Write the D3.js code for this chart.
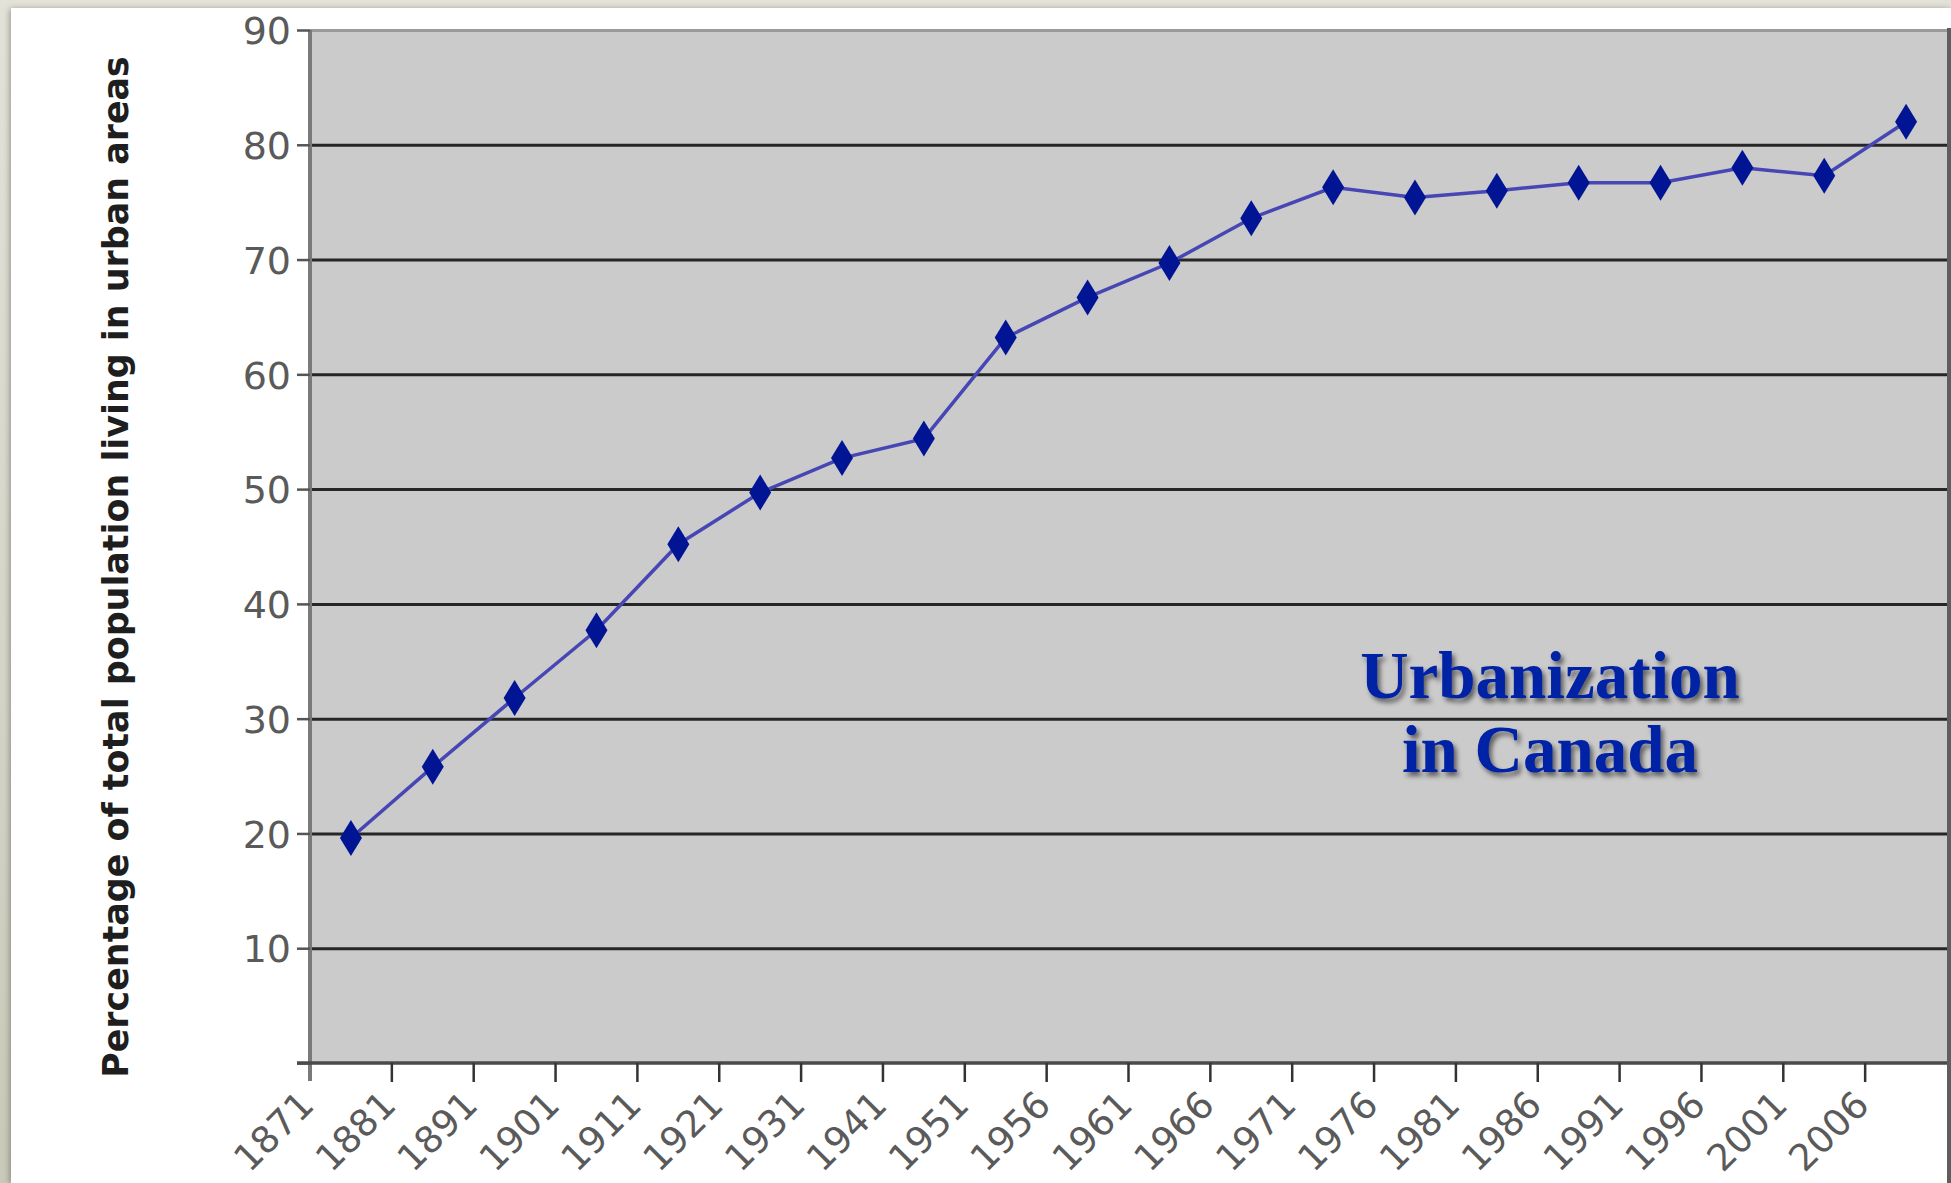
<!DOCTYPE html>
<html>
<head>
<meta charset="utf-8">
<script src="https://cdn.jsdelivr.net/npm/d3@7"></script>
<style>
  html, body { margin: 0; padding: 0; background: #d8d8cc; }
  svg { display: block; }
</style>
</head>
<body>
<svg id="chart" width="1951" height="1183"></svg>
<script>
// Census years and share of the population living in urban areas (%)
const years = ["1871","1881","1891","1901","1911","1921","1931","1941","1951","1956",
               "1961","1966","1971","1976","1981","1986","1991","1996","2001","2006"];
const urbanShare = [19.6, 25.8, 31.8, 37.7, 45.2, 49.7, 52.7, 54.4, 63.2, 66.7,
                    69.7, 73.6, 76.3, 75.4, 76.0, 76.7, 76.7, 78.0, 77.3, 82.0];
const yTicks = [10, 20, 30, 40, 50, 60, 70, 80, 90];
const yTitle = "Percentage of total population living in urban areas";
const titleLines = ["Urbanization", "in Canada"];

const W = 1951, H = 1183;
const plot = { left: 310, right: 1947, top: 30, bottom: 1063 };
const sans = "'DejaVu Sans', Verdana, sans-serif";

const svg = d3.select("#chart");

// page backdrop: beige frame with a white sheet
const defs = svg.append("defs");
const bgGrad = defs.append("linearGradient").attr("id", "frame").attr("x1", 0).attr("y1", 0).attr("x2", 0).attr("y2", 1);
bgGrad.append("stop").attr("offset", 0).attr("stop-color", "#e2e2d9");
bgGrad.append("stop").attr("offset", 1).attr("stop-color", "#c9c9b9");
svg.append("rect").attr("width", W).attr("height", H).attr("fill", "url(#frame)");

const sheetShadow = defs.append("filter").attr("id", "sheetShadow")
  .attr("x", "-5%").attr("y", "-5%").attr("width", "110%").attr("height", "110%");
sheetShadow.append("feGaussianBlur").attr("in", "SourceAlpha").attr("stdDeviation", 3);
sheetShadow.append("feOffset").attr("dx", -1).attr("dy", 1).attr("result", "b");
sheetShadow.append("feComponentTransfer").append("feFuncA").attr("type", "linear").attr("slope", 0.35);
const m = sheetShadow.append("feMerge");
m.append("feMergeNode");
m.append("feMergeNode").attr("in", "SourceGraphic");

svg.append("rect").attr("x", 11).attr("y", 8).attr("width", W - 11).attr("height", H - 8)
  .attr("fill", "#ffffff").attr("filter", "url(#sheetShadow)");

// scales
const x = d3.scaleBand().domain(years).range([plot.left, plot.right]).padding(0);
const y = d3.scaleLinear().domain([0, 90]).range([plot.bottom, plot.top]);

// plot area
svg.append("rect")
  .attr("x", plot.left).attr("y", plot.top)
  .attr("width", plot.right - plot.left).attr("height", plot.bottom - plot.top)
  .attr("fill", "#cbcbcb");

// right edge of the sheet
svg.append("rect").attr("x", plot.right).attr("y", plot.top - 2)
  .attr("width", W - plot.right).attr("height", H - plot.top + 2).attr("fill", "#5e5e5e");

// horizontal gridlines
const grid = svg.append("g")
  .attr("transform", `translate(${plot.left},0)`)
  .call(d3.axisLeft(y).tickValues(yTicks).tickSize(-(plot.right - plot.left)).tickFormat(""));
grid.select(".domain").remove();
grid.selectAll(".tick line")
  .attr("stroke", d => d === 90 ? "#9a9a9a" : "#262626")
  .attr("stroke-width", 3);

// y axis with ticks and labels
const yAxis = svg.append("g")
  .attr("transform", `translate(${plot.left},0)`)
  .call(d3.axisLeft(y).tickValues([0].concat(yTicks)).tickSize(13).tickPadding(6)
        .tickFormat(d => d === 0 ? "" : d));
yAxis.select(".domain").attr("stroke", "#7a7a7a").attr("stroke-width", 4)
  .attr("d", `M0,${plot.top}V${plot.bottom + 18}`);
yAxis.selectAll(".tick line").attr("stroke", "#555").attr("stroke-width", 2.5);
yAxis.selectAll(".tick text")
  .attr("font-family", sans)
  .attr("font-size", 38)
  .attr("fill", "#5a5a5a")
  .attr("dy", "0.36em");

// x axis: ticks at the start of each census band
const xAxis = svg.append("g")
  .attr("transform", `translate(0,${plot.bottom})`);
xAxis.append("line")
  .attr("x1", plot.left - 13).attr("x2", plot.right)
  .attr("y1", 0).attr("y2", 0)
  .attr("stroke", "#4a4a4a").attr("stroke-width", 3.5);
xAxis.selectAll("line.tick").data(years.slice(1)).join("line")
  .attr("class", "tick")
  .attr("x1", d => x(d)).attr("x2", d => x(d))
  .attr("y1", 0).attr("y2", 19)
  .attr("stroke", "#333").attr("stroke-width", 2.5);
xAxis.selectAll("text").data(years).join("text")
  .attr("transform", d => `translate(${x(d) + 6},${44}) rotate(-45)`)
  .attr("text-anchor", "end")
  .attr("font-family", sans)
  .attr("font-size", 37)
  .attr("fill", "#5a5a5a")
  .text(d => d);

// y axis title, sized to span the full axis height
const yTitleText = svg.append("text")
  .attr("transform", `translate(128,567) rotate(-90)`)
  .attr("text-anchor", "middle")
  .attr("font-family", sans)
  .attr("font-weight", "bold")
  .attr("font-size", 36)
  .attr("fill", "#1e1e1e")
  .text(yTitle);
const titleLen = yTitleText.node().getComputedTextLength();
yTitleText.attr("font-size", 36 * 1022 / titleLen);

// the series
const data = years.map((yr, i) => ({ year: yr, value: urbanShare[i] }));
const cx = d => x(d.year) + x.bandwidth() / 2;

svg.append("path")
  .datum(data)
  .attr("fill", "none")
  .attr("stroke", "#4646b4")
  .attr("stroke-width", 3.5)
  .attr("d", d3.line().x(cx).y(d => y(d.value)));

const diamond = "M0,-18L11,0L0,18L-11,0Z";
svg.append("g").selectAll("path").data(data).join("path")
  .attr("transform", d => `translate(${cx(d)},${y(d.value)})`)
  .attr("d", diamond)
  .attr("fill", "#001494");

// title with drop shadow
const ts = defs.append("filter").attr("id", "titleShadow")
  .attr("x", "-10%").attr("y", "-20%").attr("width", "120%").attr("height", "140%");
ts.append("feDropShadow").attr("dx", 3).attr("dy", 4).attr("stdDeviation", 2.5)
  .attr("flood-color", "#000").attr("flood-opacity", 0.55);

const title = svg.append("text")
  .attr("text-anchor", "middle")
  .attr("font-family", "'Liberation Serif', 'DejaVu Serif', serif")
  .attr("font-weight", "bold")
  .attr("font-size", 67)
  .attr("fill", "#0020a4")
  .attr("filter", "url(#titleShadow)");
title.selectAll("tspan").data(titleLines).join("tspan")
  .attr("x", 1550)
  .attr("y", (d, i) => 698 + i * 74)
  .text(d => d);
</script>
</body>
</html>
